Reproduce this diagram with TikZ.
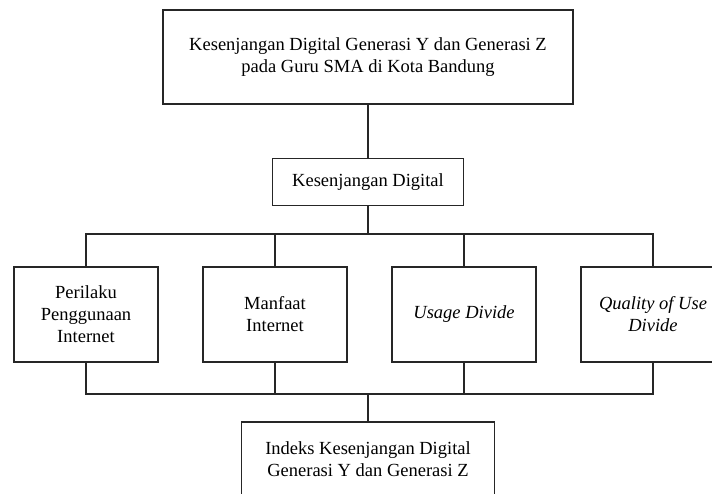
\documentclass[tikz,border=0pt]{standalone}
\usepackage{fontspec}
\setmainfont{Liberation Serif}
\begin{document}
\begin{tikzpicture}[x=1pt,y=-1pt,
  box/.style={draw=black!85, line width=1.6pt, rectangle, align=center, inner sep=0pt,
    font=\fontsize{18.5}{22}\selectfont},
  link/.style={draw=black!85, line width=1.6pt}]
\useasboundingbox (0,0) rectangle (712,493);
\clip (0,0) rectangle (712,493);
\node[box, minimum width=410pt, minimum height=94pt] (top) at (368,57)
  {Kesenjangan Digital Generasi Y dan Generasi Z\\pada Guru SMA di Kota Bandung};
\node[box, minimum width=191pt, minimum height=47pt] (mid) at (368,182)
  {Kesenjangan Digital};
\node[box, minimum width=144pt, minimum height=95pt] (b1) at (86,314.5)
  {Perilaku\\Penggunaan\\Internet};
\node[box, minimum width=144pt, minimum height=95pt] (b2) at (275,314.5)
  {Manfaat\\Internet};
\node[box, minimum width=144pt, minimum height=95pt] (b3) at (464,314.5)
  {\itshape Usage Divide};
\node[box, minimum width=144pt, minimum height=95pt] (b4) at (653,314.5)
  {\itshape Quality of Use\\\itshape Divide};
\node[box, minimum width=253pt, minimum height=74pt] (bot) at (368,459)
  {Indeks Kesenjangan Digital\\Generasi Y dan Generasi Z};
\coordinate (busT) at (368,234);
\coordinate (busB) at (368,394);
\draw[link] (top.south) -- (mid.north);
\draw[link] (mid.south) -- (busT);
\draw[link] (b1.north) |- (busT) -| (b4.north);
\draw[link] (b2.north) -- (b2.north |- busT);
\draw[link] (b3.north) -- (b3.north |- busT);
\draw[link] (b1.south) |- (busB) -| (b4.south);
\draw[link] (b2.south) -- (b2.south |- busB);
\draw[link] (b3.south) -- (b3.south |- busB);
\draw[link] (busB) -- (bot.north);
\end{tikzpicture}
\end{document}
